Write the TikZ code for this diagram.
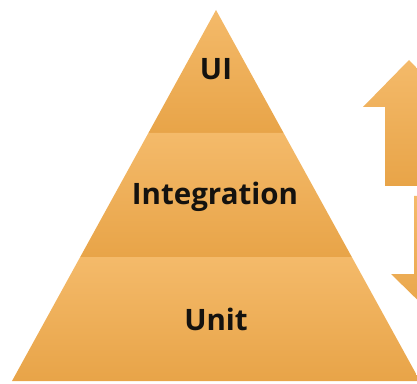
\documentclass[tikz,border=0pt]{standalone}
\usepackage{fontspec}
\setmainfont{Open Sans}
\definecolor{bandlight}{RGB}{244,186,106}
\definecolor{bandmid}{RGB}{247,180,80}
\definecolor{banddark}{RGB}{232,164,72}
\definecolor{labelink}{RGB}{20,18,15}
\begin{document}
\begin{tikzpicture}[x=1pt,y=1pt,
  band/.style={top color=bandlight, middle color=bandmid, bottom color=banddark, draw=none},
  arrowshape/.style={top color=bandlight, middle color=bandmid, bottom color=banddark, draw=none},
  lbl/.style={font=\bfseries\fontsize{29.5}{31}\selectfont, text=labelink, anchor=base, inner sep=0pt}]
\useasboundingbox (0,0) rectangle (417,383);
\clip (0,0) rectangle (417,383);
% pyramid bands
\path[band] (216,373) -- (283.6,250) -- (148.4,250) -- cycle;
\path[band] (148.4,250) -- (283.6,250) -- (351.8,126) -- (80.2,126) -- cycle;
\path[band] (80.2,126) -- (351.8,126) -- (420,2) -- (12,2) -- cycle;
% arrows
\path[arrowshape] (409,323) -- (455,276) -- (433,276) -- (433,197) -- (385,197) -- (385,276) -- (363,276) -- cycle;
\path[arrowshape] (414,187) -- (462,187) -- (462,109) -- (485,109) -- (438,63) -- (391,109) -- (414,109) -- cycle;
% labels
\node[lbl] (ui) at (216,303) {UI};
\node[lbl] (integration) at (215,178) {Integration};
\node[lbl] (unit) at (216,53) {Unit};
\end{tikzpicture}
\end{document}
